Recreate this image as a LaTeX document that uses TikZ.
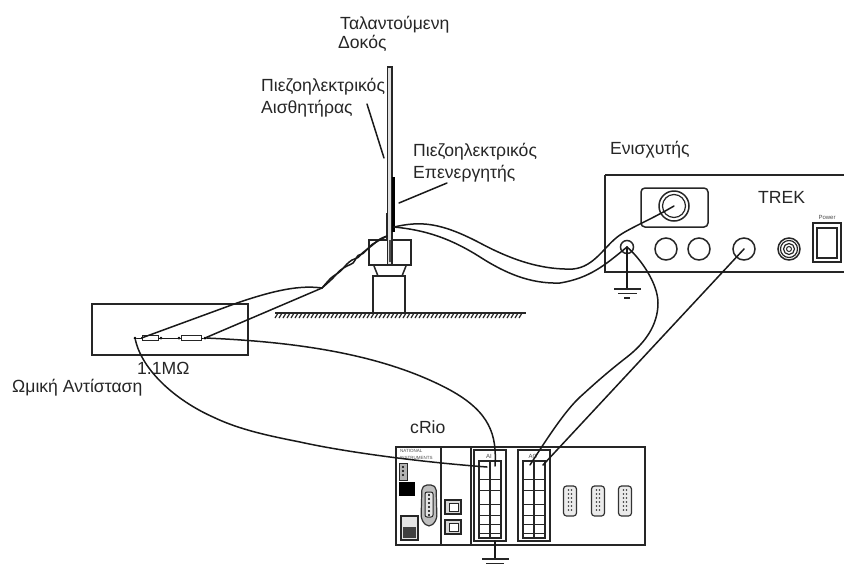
\documentclass[tikz,border=0pt]{standalone}
\usepackage{fontspec}
\setmainfont{Liberation Sans}
\usetikzlibrary{calc}
\tikzset{
  lbl/.style={inner sep=0pt,anchor=base west,font=\fontsize{17.6}{20}\selectfont,text=black!85},
  part/.style={draw=black!85,line width=1.5pt},
  thin part/.style={draw=black!85,line width=1pt},
  wire/.style={draw=black!90,line width=1.5pt,line cap=round},
  tinytext/.style={inner sep=0pt,font=\fontsize{4.5}{5}\selectfont,text=black!70},
  jack/.style={circle,draw=black!85,line width=1.5pt,inner sep=0pt,minimum size=22pt},
  dsub/.style={rounded corners=3pt,draw=black!80,fill=black!8,line width=1.2pt},
  dot/.style={circle,fill=black,inner sep=0pt,minimum size=3pt},
}
\begin{document}
\begin{tikzpicture}[x=1pt,y=-1pt]
\useasboundingbox (0,0) rectangle (844,566);
% labels
\node[lbl] (lbeam) at (340,29) {Ταλαντούμενη};
\node[lbl] (lbeamb) at (338,48) {Δοκός};
\node[lbl] (lsens) at (261,91) {Πιεζοηλεκτρικός};
\node[lbl] (lsensb) at (261,113) {Αισθητήρας};
\node[lbl] (lact) at (413,156) {Πιεζοηλεκτρικός};
\node[lbl] (lactb) at (413,178) {Επενεργητής};
\node[lbl] (lamp) at (610,154) {Ενισχυτής};
\node[lbl] (ltrek) at (758,203) {TREK};
\node[lbl] (lres) at (137,374) {1.1MΩ};
\node[lbl] (lresb) at (12,392) {Ωμική Αντίσταση};
\node[lbl] (lcrio) at (410,433) {cRio};
% beam, clamp, stand
\draw[part,line width=1.2pt] (369,240) rectangle (411,265);
\draw[part,fill=black!12,line width=1.2pt] (387.5,67) rectangle (392,265);
\fill[black!70] (388.5,240) rectangle (391,262);
\fill[black] (392,177) rectangle (395,232);
\draw[black!85,line width=1.2pt] (386.5,213) -- (386.5,240);
\draw[part] (374,266) -- (378,276) -- (402,276) -- (406,266);
\draw[part] (373,276) rectangle (405,313);
% ground hatch
\draw[part] (275,313) -- (526,313);
\foreach \x in {275,279,...,522} \draw[black!85,line width=1.2pt] (\x+3,313) -- (\x,318);
% leaders
\coordinate (s1) at (367,104); \coordinate (s2) at (384,158);
\coordinate (a1) at (447,183); \coordinate (a2) at (399,203);
\draw[wire] (s1) -- (s2);
\draw[wire] (a1) -- (a2);
% amplifier
\draw[part] (605,175) -- (844,175) (605,175) -- (605,272) -- (844,272);
\draw[part,rounded corners=4pt] (641,188) rectangle (708,227);
\node[jack,minimum size=30pt] (bnc) at (674,206) {};
\node[circle,draw=black!85,line width=1.2pt,minimum size=23pt,inner sep=0pt] (bncin) at (674,206) {};
\node[jack,minimum size=13pt] (gndjack) at (627,247) {};
\node[jack] (j1) at (666,249) {};
\node[jack] (j2) at (699,249) {};
\node[jack] (j3) at (744,249) {};
\node[jack] (j4o) at (789,249) {};
\node[circle,draw=black!85,line width=1.2pt,minimum size=17pt,inner sep=0pt] at (789,249) {};
\node[circle,draw=black!85,line width=1.2pt,minimum size=11pt,inner sep=0pt] at (789,249) {};
\node[circle,draw=black!85,line width=1pt,minimum size=5pt,inner sep=0pt] at (789,249) {};
\draw[part] (813,223) rectangle (841,262);
\draw[part] (817,228) rectangle (837,258);
\node[tinytext,font=\fontsize{6}{7}\selectfont] (lpow) at (827,217) {Power};
% ground symbols
\coordinate (g1) at (627,289);
\draw[wire] (gndjack.center) -- (g1);
\draw[part] (614,289) -- (641,289) (618,293.5) -- (637,293.5) (624,298) -- (630,298);
% cRio
\draw[part] (396,447) rectangle (645,545);
\draw[part] (441,447) -- (441,545) (471,447) -- (471,545);
\node[tinytext,anchor=west] (ni1) at (400,451) {NATIONAL};
\node[tinytext,anchor=west] (ni2) at (400,458) {INSTRUMENTS};
\draw[thin part,fill=black!30] (399,463) rectangle (407,480);
\foreach \y in {467,471,475} \fill[black] (403,\y) circle (1.2pt);
\fill[black] (399,482) rectangle (415,496);
\draw[part,fill=black!10] (401,516) rectangle (418,540);
\fill[black!75] (403,527) rectangle (416,538);
\draw[dsub,fill=black!25,rounded corners=5pt] (422,485) -- (436,485) -- (437,520) -- (429,528) -- (421,520) -- cycle;
\draw[thin part,fill=black!10,rounded corners=2pt] (425,492) rectangle (433,517);
\foreach \y in {495,499,...,515} \fill[black] (429,\y) circle (1.2pt);
\foreach \y in {507,527} {
  \draw[part,fill=black!15] (445,\y-7) rectangle (461,\y+7);
  \draw[thin part,fill=white] (449,\y-4) rectangle (458,\y+4);
}
\foreach \x/\n in {474/ai,518/ao} {
  \draw[part] (\x,450) rectangle (\x+32,541);
  \draw[part,line width=1.8pt] (\x+5,461) rectangle (\x+27,538);
  \draw[part] (\x+16,461) -- (\x+16,538);
  \foreach \y in {479,490,504,515,524,533}
    \draw[thin part] (\x+5,\y) -- (\x+27,\y);
}
\node[tinytext,font=\fontsize{6}{7}\selectfont] (lai) at (489,456) {AI};
\node[tinytext,font=\fontsize{6}{7}\selectfont] (lao) at (533,456) {AO};
\foreach \x in {570,598,625} {
  \draw[dsub] (\x-6.5,486) rectangle (\x+6.5,516);
  \foreach \y in {490,494,...,512} \fill[black!80] (\x-1.5,\y) circle (0.9pt) (\x+1.5,\y) circle (0.9pt);
}
\coordinate (g2) at (495,559);
\draw[wire] (495,541) -- (g2);
\draw[part] (482,559) -- (509,559) (486,563.5) -- (504,563.5);
% terminals on cRio
\coordinate (aiL) at (487,467); \coordinate (aiR) at (495,466);
\coordinate (aoL) at (530,465); \coordinate (aoR) at (543,465);
% resistor box
\draw[part] (92,304) rectangle (248,355);
\node[dot] (nl) at (135,338) {};
\node[dot] (nm1) at (161,338) {};
\node[dot] (nm2) at (179,338) {};
\node[dot] (nr) at (205,338) {};
\node[draw=black!85,line width=1pt,minimum width=16pt,minimum height=5.5pt,inner sep=0pt] (r1) at (150,338) {};
\node[draw=black!85,line width=1pt,minimum width=20pt,minimum height=5.5pt,inner sep=0pt] (r2) at (191,338) {};
\draw[wire,line width=1pt] (nl) -- (r1) (r1) -- (r2) (r2) -- (nr);
% twisted pair
\coordinate (tw) at (322,288); \coordinate (act) at (394,227); \coordinate (sn) at (387,236);
\draw[wire] plot[smooth] coordinates {(322,288) (331,278) (340,271.5) (347,264) (352,260) (358,257.5) (363,252.5) (372,245.5) (380,239) (387,236)};
\draw[wire] plot[smooth] coordinates {(322,288) (332,279) (340,270.5) (347,266) (353,263) (358,255.5) (363,253.5) (372,244.5) (380,240) (387,236)};
\draw[wire] (tw) .. controls (300,285) and (275,290) .. (237,303) -- (r1.west);
\draw[wire] (tw) -- (nr);
% actuator wires
\draw[wire] (act) .. controls (420,221) and (440,222) .. (480,243) .. controls (510,259) and (540,270) .. (573,269) .. controls (595,267) and (605,245) .. (620,235) .. controls (632,227) and (650,220) .. (bnc.center);
\draw[wire] (act) .. controls (425,230) and (450,238) .. (480,257) .. controls (505,273) and (530,284) .. (560,283) .. controls (590,278) and (605,265) .. (gndjack.center);
% cRio wires
\draw[wire] (gndjack.center) .. controls (640,258) and (658,283) .. (658,303) .. controls (658,325) and (645,343) .. (627,357) .. controls (605,374) and (590,388) .. (580,397) .. controls (565,411) and (548,437) .. (aoL);
\draw[wire] (j3.center) -- (aoR);
\draw[wire] (nr) .. controls (300,342) and (385,355) .. (450,390) .. controls (490,412) and (497,435) .. (aiR);
\draw[wire] (nl) .. controls (142,370) and (175,400) .. (213,417) .. controls (240,430) and (270,436) .. (300,442) .. controls (345,452) and (420,462) .. (aiL);
\end{tikzpicture}
\end{document}
